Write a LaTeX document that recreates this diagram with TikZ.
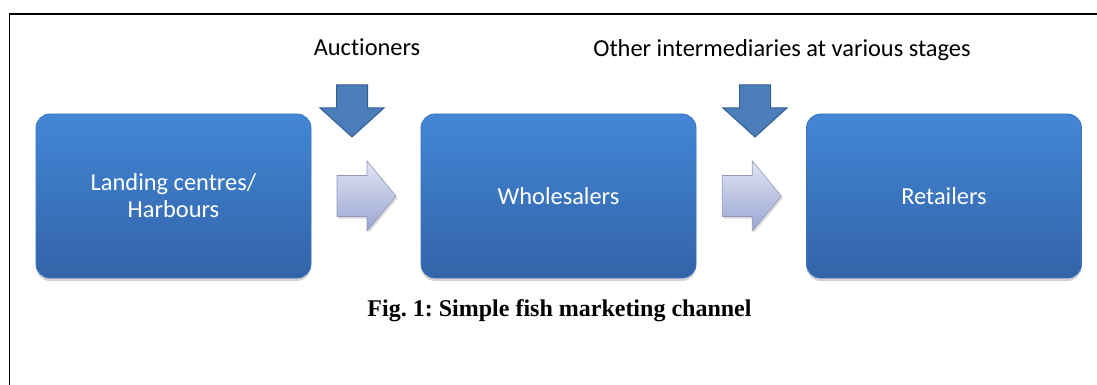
\documentclass[tikz,border=0pt]{standalone}
\usepackage{fontspec}
\setmainfont{Liberation Serif}
\newfontfamily\calfont[Ligatures=NoCommon]{Carlito}
\usetikzlibrary{calc,shadows}
\frenchspacing

\definecolor{boxtop}{HTML}{4287D6}
\definecolor{boxbot}{HTML}{3363A8}
\definecolor{boxedge}{HTML}{3D74BD}
\definecolor{downfill}{HTML}{4A7DBA}
\definecolor{downedge}{HTML}{35618F}
\definecolor{rtop}{HTML}{E2E6F4}
\definecolor{rbot}{HTML}{9AA5D2}
\definecolor{redge}{HTML}{8E97BC}

\begin{document}
\begin{tikzpicture}[x=0.5pt, y=-0.5pt,
  stage/.style={draw=boxedge, line width=0.4pt, rounded corners=7pt,
    top color=boxtop, bottom color=boxbot,
    drop shadow={opacity=0.35, shadow xshift=0pt, shadow yshift=-1.5pt},
    minimum width=137.5pt, minimum height=82pt, align=center,
    text=white, font=\calfont\fontsize{12.2}{13.5}\selectfont},
  label/.style={anchor=base, font=\calfont\fontsize{12.2}{13.5}\selectfont},
  downarrow/.style={fill=downfill, draw=downedge, line width=0.5pt},
  rightarrow/.style={top color=rtop, bottom color=rbot, draw=redge,
    line width=0.3pt, drop shadow={opacity=0.3, shadow xshift=0.8pt,
    shadow yshift=-1pt}}]
\useasboundingbox (0,0) rectangle (1097,385);

% page frame, only top and left edges show
\draw[line width=0.7pt] (9.5,385) -- (9.5,14) -- (1097,14);

% the three stages of the channel
\node[stage] (landing) at (173.5,196) {Landing centres/\\Harbours};
\node[stage] (whole) at (558.5,196) {Wholesalers};
\node[stage] (retail) at (944,196) {Retailers};

% flow between stages
\coordinate (gapA) at ($(landing.east)!0.5!(whole.west)$);
\coordinate (gapB) at ($(whole.east)!0.5!(retail.west)$);
\foreach \g in {gapA,gapB}
  \draw[rightarrow, shift={(\g)}] (-29,-20.5) -- (1,-20.5) -- (1,-35)
    -- (30,0) -- (1,35) -- (1,20.5) -- (-29,20.5) -- cycle;

% who steps in along the way
\node[label] (auct) at (367,56) {Auctioners};
\node[label] (inter) at (782,57) {Other intermediaries at various stages};
\coordinate (inA) at (352,85);
\coordinate (inB) at (755,85);
\foreach \i in {inA,inB}
  \draw[downarrow, shift={(\i)}] (-15.5,0) -- (15.5,0) -- (15.5,23)
    -- (32,23) -- (0,52) -- (-32,23) -- (-15.5,23) -- cycle;

\node[anchor=base, font=\bfseries\fontsize{12}{14}\selectfont] (caption)
  at (559.5,316) {Fig. 1: Simple fish marketing channel};
\end{tikzpicture}
\end{document}
